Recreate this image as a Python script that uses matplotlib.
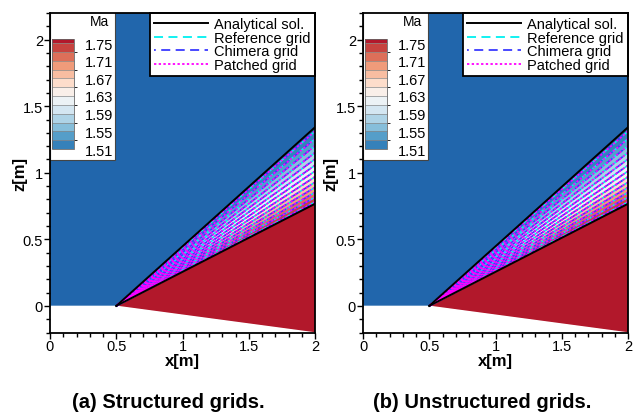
import numpy as np
import matplotlib
matplotlib.use("Agg")
import matplotlib.pyplot as plt
from matplotlib import cm
from matplotlib.colors import LinearSegmentedColormap, ListedColormap, BoundaryNorm
from matplotlib.lines import Line2D
from matplotlib.patches import Rectangle
from matplotlib.ticker import MultipleLocator, FormatStrFormatter

plt.rcParams["font.family"] = ["Liberation Sans", "DejaVu Sans"]

# flow case: supersonic inflow turning round an expansion corner
mach_inf = 1.5
gamma = 1.4
wall_x = [0.0, 0.5, 2.0]
wall_z = [0.0, 0.0, -0.2]

# contour levels of the Mach number and the labelled ones in the colour key
ma_levels = [1.51, 1.53, 1.55, 1.57, 1.59, 1.61, 1.63, 1.65, 1.67, 1.69, 1.71, 1.73, 1.75]
ma_ticks = [1.51, 1.55, 1.59, 1.63, 1.67, 1.71, 1.75]
ramp = ["#2166ac", "#4393c3", "#92c5de", "#d1e5f0", "#f7f7f7",
        "#fddbc7", "#f4a582", "#d6604d", "#b2182b"]

grid_names = ["Reference grid", "Chimera grid", "Patched grid"]
grid_colors = ["#00f0f0", "#3a3aff", "#ff00ff"]
grid_dashes = [(0, (5, 3)), (4, (5, 3)), (0, (1.3, 1.3))]
panel_titles = ["(a) Structured grids.", "(b) Unstructured grids."]


def pm_nu(m):
    k = (gamma + 1) / (gamma - 1)
    return np.sqrt(k) * np.arctan(np.sqrt((m ** 2 - 1) / k)) - np.arctan(np.sqrt(m ** 2 - 1))


def mach_angle(m):
    return np.arcsin(1.0 / m)


corner_x = wall_x[1]
theta = np.arctan2(wall_z[1] - wall_z[2], wall_x[2] - wall_x[1])
nu1 = pm_nu(mach_inf)

# invert the Prandtl-Meyer relation along the fan rays
m_tab = np.linspace(mach_inf, 3.0, 6000)
nu_tab = pm_nu(m_tab)
mach_2 = np.interp(nu1 + theta, nu_tab, m_tab)
ray_tab = mach_angle(m_tab) - (nu_tab - nu1)
ray_head = mach_angle(mach_inf)
ray_tail = mach_angle(mach_2) - theta

xg = np.linspace(0, 2, 801)
zg = np.linspace(-0.2, 2.2, 961)
X, Z = np.meshgrid(xg, zg)
ang = np.clip(np.arctan2(Z, X - corner_x), ray_tail, ray_head)
M = np.interp(ang, ray_tab[::-1], m_tab[::-1])
# no flow inside the body
M = np.ma.masked_where(Z < np.interp(X, wall_x, wall_z) - 1e-9, M)

full = LinearSegmentedColormap.from_list("rdbu", ramp)
cols = full(np.linspace(0, 1, len(ma_levels) + 1))
cmap = ListedColormap(cols[1:-1])
cmap.set_under(cols[0])
cmap.set_over(cols[-1])
norm = BoundaryNorm(ma_levels, cmap.N)

fig = plt.figure(figsize=(6.33, 4.14), dpi=100)
W, H = 633.0, 414.0
ax_left_px = [50.0, 363.0]
ylab_px = [27.0, 338.5]
title_px = [168.5, 481.7]

for i in range(2):
    ax = fig.add_axes([ax_left_px[i] / W, (H - 333.5) / H, 265 / W, 319.5 / H])
    ax.contourf(X, Z, M, levels=ma_levels, cmap=cmap, norm=norm, extend="both")
    ax.fill_between(wall_x, wall_z, -0.2, color="white", zorder=1.5)

    for c, d in zip(grid_colors, grid_dashes):
        cs = ax.contour(X, Z, M, levels=ma_levels, colors=[c], linewidths=1.2, zorder=2)
        cs.set_linestyle(d)

    xe = np.array([corner_x, 2.0])
    ax.plot(xe, np.tan(ray_head) * (xe - corner_x), color="k", lw=1.4, zorder=3)
    ax.plot(xe, np.tan(ray_tail) * (xe - corner_x), color="k", lw=1.4, zorder=3)

    ax.set_xlim(0, 2)
    ax.set_ylim(-0.2, 2.2)
    ax.xaxis.set_major_locator(MultipleLocator(0.5))
    ax.yaxis.set_major_locator(MultipleLocator(0.5))
    ax.xaxis.set_minor_locator(MultipleLocator(0.1))
    ax.yaxis.set_minor_locator(MultipleLocator(0.1))
    ax.xaxis.set_major_formatter(FormatStrFormatter("%g"))
    ax.yaxis.set_major_formatter(FormatStrFormatter("%g"))
    ax.tick_params(which="both", direction="out", width=1, pad=1, labelsize=10.5)
    ax.tick_params(which="major", length=4)
    ax.tick_params(which="minor", length=3)
    for s in ax.spines.values():
        s.set_linewidth(1.3)
        s.set_zorder(6)

    ax.set_xlabel("x[m]", fontsize=12, fontweight="bold", labelpad=0)
    ax.set_ylabel("z[m]", fontsize=12, fontweight="bold")
    ax.yaxis.set_label_coords((ylab_px[i] - ax_left_px[i]) / 265, 0.5)

    # colour key in the upper left corner
    ax.add_patch(Rectangle((0, (333.5 - 161) / 319.5), 65 / 265, 161 / 319.5,
                           transform=ax.transAxes, facecolor="white",
                           edgecolor="#444444", lw=0.8, zorder=4.5))
    ax.text(49.5 / 265, (333.5 - 22) / 319.5, "Ma", transform=ax.transAxes,
            ha="center", va="center", fontsize=10, zorder=5)
    cax = ax.inset_axes([2.3 / 265, (333.5 - 150) / 319.5, 21.7 / 265, 110 / 319.5])
    sm = cm.ScalarMappable(norm=norm, cmap=cmap)
    cb = fig.colorbar(sm, cax=cax, extend="max", extendfrac=4 / 106, extendrect=True,
                      drawedges=True, ticks=ma_ticks, format="%.2f")
    cb.dividers.set_color("#888888")
    cb.dividers.set_linewidth(0.5)
    cb.outline.set_edgecolor("#666666")
    cb.outline.set_linewidth(0.6)
    cax.tick_params(length=0, pad=8, labelsize=10.5)

    handles = [Line2D([], [], color="k", lw=1.4, label="Analytical sol.")]
    for n, c, d in zip(grid_names, grid_colors, grid_dashes):
        handles.append(Line2D([], [], color=c, lw=1.3, ls=d, label=n))
    leg = ax.legend(handles=handles, loc="upper right", bbox_to_anchor=(1, 1),
                    borderaxespad=0, fontsize=10.5, handlelength=3.7,
                    handletextpad=0.4, labelspacing=-0.04, borderpad=0.3,
                    fancybox=False, framealpha=1, edgecolor="black")
    leg.get_frame().set_linewidth(1.3)
    leg.set_zorder(5)

    fig.text(title_px[i] / W, 1 - 403 / H, panel_titles[i], ha="center", va="center",
             fontsize=14.5, fontweight="bold")

fig.savefig("out.png", dpi=100)
